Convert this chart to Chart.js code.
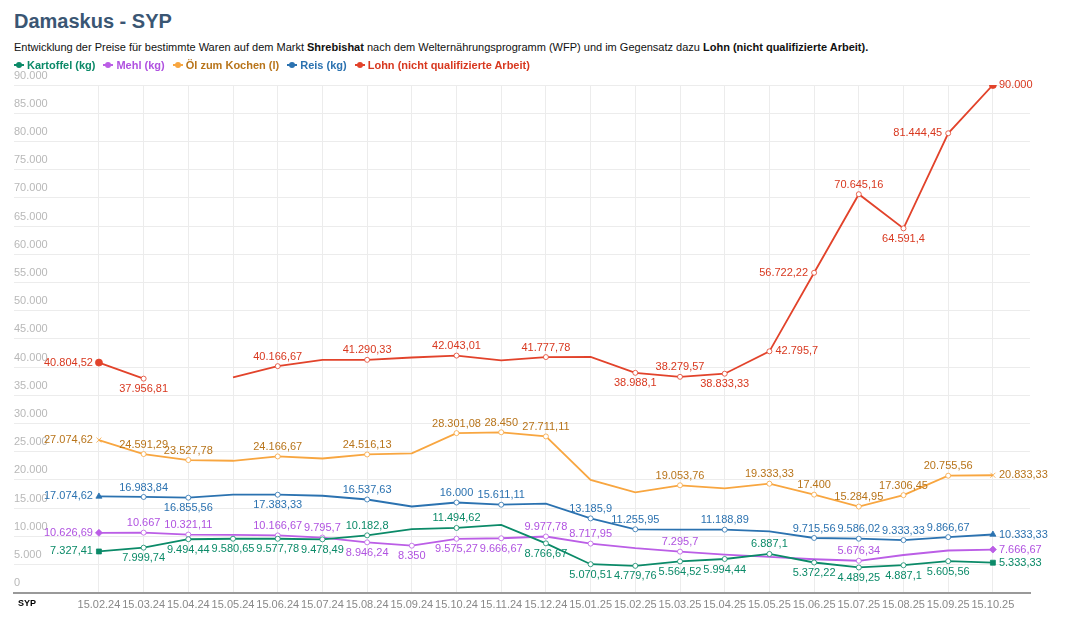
<!DOCTYPE html>
<html><head><meta charset="utf-8">
<script src="https://cdn.jsdelivr.net/npm/chart.js@4/dist/chart.umd.min.js"></script>
<style>
body{margin:0;background:#fff;font-family:"Liberation Sans",Arial,sans-serif;width:1080px;height:622px;overflow:hidden;position:relative}
h1{position:absolute;left:14px;top:10px;margin:0;font-size:20px;color:#3a5673;font-weight:bold}
.sub{position:absolute;left:14px;top:41px;font-size:11px;color:#111}
.legend{position:absolute;left:14px;top:59px;font-size:11px;font-weight:bold;display:flex;gap:8px;z-index:2}
.legend span{display:flex;align-items:center;gap:3px}
.legend i{display:inline-block;width:10px;height:2px;position:relative}
.legend i b{position:absolute;left:2px;top:-2px;width:6px;height:6px;border-radius:3px}
#wrap{position:absolute;left:0;top:60px;width:1080px;height:558px}
.syp{position:absolute;left:18px;top:598px;font-size:9px;font-weight:bold}
</style></head><body>
<h1>Damaskus - SYP</h1>
<div class="sub">Entwicklung der Preise für bestimmte Waren auf dem Markt <b>Shrebishat</b> nach dem Welternährungsprogramm (WFP) und im Gegensatz dazu <b>Lohn (nicht qualifizierte Arbeit).</b></div>
<div class="legend" id="legend"></div>
<div id="wrap"><canvas id="chart"></canvas></div>
<div class="syp">SYP</div>
<script>
const dates = ["15.02.24","15.03.24","15.04.24","15.05.24","15.06.24","15.07.24","15.08.24","15.09.24","15.10.24","15.11.24","15.12.24","15.01.25","15.02.25","15.03.25","15.04.25","15.05.25","15.06.25","15.07.25","15.08.25","15.09.25","15.10.25"];
const yTicks = [0,5000,10000,15000,20000,25000,30000,35000,40000,45000,50000,55000,60000,65000,70000,75000,80000,85000,90000];

const kartoffel = [7327.41,7999.74,9494.44,9580.65,9577.78,9478.49,10182.8,11300,11494.62,12050,8766.67,5070.51,4779.76,5564.52,5994.44,6887.1,5372.22,4489.25,4887.1,5605.56,5333.33];
const mehl = [10626.69,10667,10321.11,10250,10166.67,9795.7,8946.24,8350,9575.27,9666.67,9977.78,8717.95,7900,7295.7,6750,6350,5950,5676.34,6700,7500,7666.67];
const oel = [27074.62,24591.29,23527.78,23400,24166.67,23800,24516.13,24700,28301.08,28450,27711.11,20000,17800,19053.76,18500,19333.33,17400,15284.95,17306.45,20755.56,20833.33];
const reis = [17074.62,16983.84,16855.56,17400,17383.33,17200,16537.63,15300,16000,15611.11,15800,13185.9,11255.95,11200,11188.89,10900,9715.56,9586.02,9333.33,9866.67,10333.33];
const lohn = [40804.52,37956.81,null,38200,40166.67,41300,41290.33,41700,42043.01,41200,41777.78,41800,38988.1,38279.57,38833.33,42795.7,56722.22,70645.16,64591.4,81444.45,90000];

// where each value label sits: l/r/a(bove)/b(elow), null = no label
const kartoffelPos = ["l","b","b","b","b","b","a",null,"a",null,"b","b","b","b","b","a","b","b","b","b","r"];
const mehlPos = ["l","a","a",null,"a","a","b","b","b","b","a","a",null,"a",null,null,null,"a",null,null,"r"];
const oelPos = ["l","a","a",null,"a",null,"a",null,"a","a","a",null,null,"a",null,"a","a","a","a","a","r"];
const reisPos = ["l","a","b",null,"b",null,"a",null,"a","a",null,"a","a",null,"a",null,"a","a","a","a","r"];
const lohnPos = ["l","b",null,null,"a",null,"a",null,"a",null,"a",null,"b","a","b","r","l","a","b","l","r"];

const fmt = v => v.toLocaleString("de-DE",{maximumFractionDigits:2});

function series(label, data, pos, color, textColor, style){
  const n = data.length;
  return {
    label, data: data.map((v,i)=>({x:i,y:v})), pos, textColor,
    borderColor: color, borderWidth: 1.8, tension: 0, spanGaps: false,
    pointStyle: data.map((v,i)=> i===0||i===n-1 ? style : "circle"),
    pointRadius: data.map((v,i)=> i===0||i===n-1 ? 3.5 : (pos[i] ? 2.5 : 0)),
    pointBackgroundColor: data.map((v,i)=> i===0||i===n-1 ? color : "#fff"),
    pointBorderColor: color, pointBorderWidth: 0.8
  };
}

const datasets = [
  series("Kartoffel (kg)", kartoffel, kartoffelPos, "#0b8a68", "#0b8a68", "rect"),
  series("Mehl (kg)", mehl, mehlPos, "#bb5ee6", "#b052e0", "rectRot"),
  series("Öl zum Kochen (l)", oel, oelPos, "#f8a640", "#b8741a", "crossRot"),
  series("Reis (kg)", reis, reisPos, "#2b72b0", "#2b72b0", "triangle"),
  series("Lohn (nicht qualifizierte Arbeit)", lohn, lohnPos, "#e2432b", "#d8381f", "circle")
];

document.getElementById("legend").innerHTML = datasets.map(d =>
  `<span style="color:${d.textColor}"><i style="background:${d.borderColor}"><b style="background:${d.borderColor}"></b></i>${d.label}</span>`).join("");

const labelPlugin = {
  id: "labels",
  afterDatasetsDraw(chart){
    const ctx = chart.ctx, ys = chart.scales.y;
    ctx.save();
    ctx.font = "11px 'Liberation Sans', Arial";
    ctx.fillStyle = "#b8b8b8";
    ctx.textAlign = "left"; ctx.textBaseline = "bottom";
    yTicks.forEach(t => ctx.fillText(fmt(t), 14, ys.getPixelForValue(t) - 4));
    chart.data.datasets.forEach((ds, di) => {
      const meta = chart.getDatasetMeta(di);
      ctx.fillStyle = ds.textColor;
      meta.data.forEach((pt, i) => {
        const p = ds.pos[i];
        if (!p || ds.data[i].y == null) return;
        const s = fmt(ds.data[i].y);
        if (p === "l") { ctx.textAlign = "right"; ctx.textBaseline = "middle"; ctx.fillText(s, pt.x - 6, pt.y); }
        else if (p === "r") { ctx.textAlign = "left"; ctx.textBaseline = "middle"; ctx.fillText(s, pt.x + 6, pt.y); }
        else if (p === "a") { ctx.textAlign = "center"; ctx.textBaseline = "bottom"; ctx.fillText(s, pt.x, pt.y - 4); }
        else { ctx.textAlign = "center"; ctx.textBaseline = "top"; ctx.fillText(s, pt.x, pt.y + 5); }
      });
    });
    ctx.restore();
  }
};

new Chart(document.getElementById("chart"), {
  type: "line",
  data: { datasets },
  plugins: [labelPlugin],
  options: {
    responsive: true, maintainAspectRatio: false, animation: false,
    layout: { padding: { left: 14, right: 50, top: 25, bottom: 0 } },
    plugins: { legend: { display: false }, tooltip: { enabled: false } },
    scales: {
      x: {
        type: "linear", min: -1.9, max: 20.83,
        afterBuildTicks: s => { s.ticks = dates.map((d,i)=>({value:i})); },
        ticks: { callback: v => dates[v], color: "#888", font: { size: 11 }, maxRotation: 0, autoSkip: false, padding: 6 },
        grid: { color: "#ececec", drawTicks: false },
        border: { color: "#999", width: 2 }
      },
      y: {
        min: 0, max: 90000,
        afterBuildTicks: s => { s.ticks = yTicks.map(v=>({value:v})); },
        ticks: { display: false },
        grid: { color: "#ececec", drawTicks: false },
        border: { display: false }
      }
    }
  }
});
</script>
</body></html>
